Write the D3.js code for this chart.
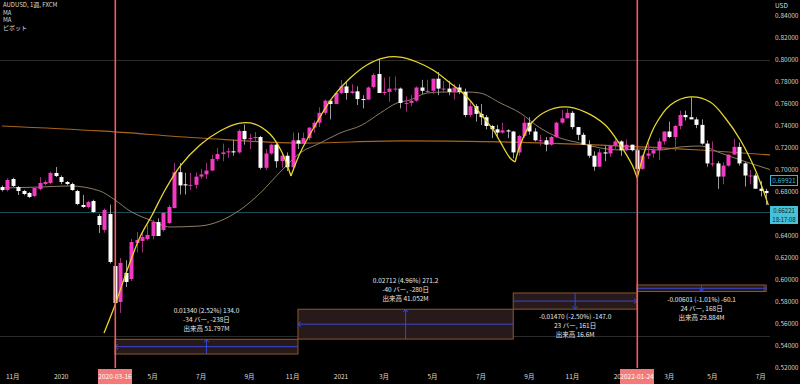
<!DOCTYPE html>
<html lang="ja">
<head>
<meta charset="UTF-8">
<title>AUDUSD 1週</title>
<script src="https://cdn.jsdelivr.net/npm/d3@7"></script>
<style>
  body { margin: 0; background: #000; }
  svg text { font-family: "Noto Sans CJK JP", "Noto Sans", sans-serif; }
</style>
</head>
<body>
<svg id="chart" width="800" height="384"></svg>
<script>
// weekly bars, first bar = week of 2019-10-21
var firstWeek = "2019-10-21", lastWeek = "2022-07-18";

var opens  = [.6845,.6818,.6918,.6845,.6809,.6791,.6764,.6827,.6873,.6882,.6973,.6936,.6891,.6873,.6809,.6682,.6664,.6718,.6582,.6455,
              .6600,.6127,.5800,.6064,.6009,.6336,.6355,.6373,.6400,.6527,.6455,.6518,.6655,.6980,.6870,.6860,.6865,.6940,.6960,.6995,
              .7100,.7145,.7160,.7170,.7160,.7355,.7280,.7290,.7300,.7020,.7150,.7230,.7080,.7130,.7025,.7270,.7240,.7290,.7385,.7430,
              .7520,.7630,.7600,.7700,.7760,.7700,.7715,.7645,.7640,.7755,.7873,.7700,.7710,.7740,.7740,.7610,.7610,.7630,.7750,.7720,
              .7720,.7830,.7740,.7740,.7710,.7750,.7710,.7500,.7580,.7510,.7480,.7400,.7370,.7340,.7360,.7350,.7160,.7310,.7430,.7350,
              .7270,.7270,.7230,.7300,.7430,.7470,.7520,.7390,.7320,.7230,.7130,.7030,.7160,.7150,.7220,.7260,.7180,.7230,.7180,.7010,
              .7130,.7150,.7180,.7260,.7350,.7300,.7400,.7500,.7480,.7460,.7410,.7240,.7060,.7060,.6940,.7040,.7140,.7210,.7060,.6950,
              .6950,.6830,.6810,.6790];
var highs  = [.6860,.6925,.6930,.6855,.6820,.6800,.6845,.6936,.6905,.6985,.7027,.6950,.6900,.6885,.6820,.6773,.6720,.6730,.6600,.6650,
              .6685,.6190,.6200,.6180,.6373,.6436,.6445,.6500,.6545,.6560,.6620,.6680,.7064,.7064,.6975,.6975,.6977,.7010,.7064,.7140,
              .7200,.7240,.7200,.7275,.7370,.7413,.7330,.7345,.7310,.7190,.7240,.7240,.7160,.7160,.7340,.7340,.7340,.7390,.7450,.7570,
              .7640,.7640,.7710,.7820,.7800,.7780,.7760,.7680,.7760,.7880,.8007,.7840,.7849,.7850,.7750,.7670,.7680,.7760,.7820,.7820,
              .7830,.7891,.7810,.7810,.7780,.7780,.7740,.7617,.7600,.7600,.7500,.7410,.7410,.7430,.7370,.7355,.7320,.7478,.7480,.7380,
              .7320,.7300,.7310,.7440,.7545,.7556,.7537,.7390,.7340,.7270,.7170,.7190,.7220,.7230,.7280,.7270,.7277,.7230,.7200,.7140,
              .7250,.7210,.7290,.7350,.7440,.7410,.7540,.7540,.7661,.7480,.7460,.7270,.7260,.7080,.7070,.7140,.7283,.7250,.7070,.7000,
              .6970,.6900,.6830,.6950];
var lows   = [.6805,.6805,.6845,.6773,.6770,.6745,.6755,.6815,.6860,.6870,.6935,.6870,.6860,.6810,.6680,.6655,.6650,.6610,.6427,.6430,
              .6150,.5506,.5700,.5936,.5990,.6250,.6250,.6360,.6370,.6400,.6440,.6510,.6650,.6777,.6777,.6820,.6830,.6920,.6920,.6990,
              .7080,.7080,.7110,.7130,.7150,.7230,.7190,.7260,.7005,.7000,.7140,.7020,.7020,.6990,.6990,.7190,.7240,.7270,.7340,.7390,
              .7500,.7460,.7600,.7690,.7640,.7690,.7590,.7560,.7640,.7740,.7700,.7680,.7620,.7710,.7560,.7530,.7580,.7620,.7690,.7700,
              .7690,.7680,.7700,.7680,.7640,.7690,.7480,.7480,.7440,.7410,.7370,.7290,.7290,.7330,.7290,.7106,.7130,.7290,.7320,.7260,
              .7220,.7170,.7220,.7290,.7420,.7470,.7370,.7270,.7230,.7110,.6993,.7030,.7080,.7120,.7190,.7130,.7170,.7170,.6967,.7000,
              .7100,.7110,.7090,.7230,.7290,.7170,.7370,.7450,.7480,.7380,.7230,.7030,.7030,.6828,.6870,.7030,.7140,.7040,.6850,.6870,
              .6830,.6760,.6681,.6780];
var closes = [.6818,.6909,.6855,.6809,.6782,.6755,.6836,.6882,.6891,.6973,.6945,.6891,.6873,.6818,.6691,.6664,.6709,.6618,.6500,.6636,
              .6164,.5791,.6155,.5982,.6345,.6364,.6390,.6410,.6527,.6400,.6610,.6664,.6980,.6860,.6860,.6865,.6940,.6960,.6995,.7100,
              .7145,.7160,.7170,.7160,.7355,.7280,.7290,.7300,.7020,.7150,.7230,.7080,.7130,.7025,.7270,.7240,.7290,.7385,.7430,.7520,
              .7630,.7600,.7700,.7760,.7700,.7715,.7645,.7640,.7750,.7864,.7700,.7710,.7740,.7740,.7610,.7610,.7630,.7750,.7720,.7720,
              .7830,.7740,.7740,.7710,.7750,.7710,.7500,.7580,.7510,.7480,.7400,.7370,.7340,.7360,.7350,.7160,.7310,.7430,.7350,.7270,
              .7270,.7230,.7300,.7430,.7470,.7520,.7390,.7320,.7230,.7130,.7030,.7160,.7150,.7220,.7260,.7180,.7230,.7180,.7010,.7130,
              .7150,.7180,.7260,.7350,.7300,.7400,.7500,.7480,.7460,.7410,.7240,.7060,.7060,.6940,.7040,.7140,.7210,.7060,.6950,.6950,
              .6830,.6810,.6790,.6920];

// moving averages: [bar, price]
var maShort = [[0,.6836],[7,.6845],[12.6,.6855],[18.2,.6809],[21,.6727],[23.8,.6627],[27.5,.6545],[31.2,.6482],[36.8,.6491],
               [40.5,.6536],[44.2,.6636],[48,.6791],[51.7,.6982],[55.4,.7155],[59.1,.7245],[62.8,.7336],[66.9,.7409],[70.3,.7518],
               [73.4,.7609],[75.8,.7636],[79,.7700],[82,.7709],[86.4,.7709],[88.8,.7700],[92.6,.7609],[96.3,.7518],[100,.7382],
               [103.7,.7291],[107.4,.7245],[111.2,.7200],[114.9,.7182],[118.6,.7191],[122.3,.7182],[126,.7209],[129.7,.7218],
               [133.5,.7155],[137.2,.7091],[143,.7000]];
var maLong  = [[0,.7400],[18.2,.7355],[36.8,.7291],[55.4,.7245],[74,.7264],[92.6,.7255],[111.2,.7227],[129.7,.7182],[143,.7136]];

// arcs drawn on the chart: [bar, price]
var arcs = [
  [[18.96,.5518],[21,.5773],[23.4,.6109],[25.65,.6391],[27.9,.6591],[30.3,.6818],[33.1,.7036],[36.8,.7227],[40.5,.7355],
   [44.2,.7427],[47,.7418],[49.8,.7327],[52,.7164],[53.7,.6945]],
  [[53.7,.6945],[55.4,.7155],[58.55,.7436],[61.5,.7664],[64.7,.7836],[67.8,.7955],[70.8,.8018],[74,.8027],[77.1,.7982],
   [80.1,.7909],[83.3,.7791],[86.4,.7664],[88.8,.7518],[91.3,.7364],[92.6,.7255],[94.4,.7109],[95.35,.7073]],
  [[95.35,.7073],[96.3,.7227],[98.1,.7409],[100.9,.7527],[104.6,.7573],[108.4,.7527],[112.1,.7409],[114.9,.7227],
   [117.1,.7045],[118.03,.6927]],
  [[118.03,.6927],[119.5,.7182],[121.4,.7409],[124.2,.7591],[127.9,.7664],[131.6,.7618],[134.4,.7473],[137.2,.7273],
   [140,.7000],[142.4,.6682]]
];

// date/price ranges: bar from, bar to, price low, price high, change sign
var rangeBars   = [[55,21],[95,55],[95,118],[118,142]];
var rangePrices = [[.5327,.5461],[.5463,.5734],[.5735,.5882],[.5895,.5955]];
var rangeUp     = [true, true, false, false];
var rangeText   = [
  ["0.01340 (2.52%) 134.0", "-34 バー, -238日", "出来高 51.797M"],
  ["0.02712 (4.96%) 271.2", "-40 バー, -280日", "出来高 41.052M"],
  ["-0.01470 (-2.50%) -147.0", "23 バー, 161日", "出来高 16.6M"],
  ["-0.00601 (-1.01%) -60.1", "24 バー, 168日", "出来高 29.884M"]
];

var markerDates = ["2020-03-16", "2022-01-24"];
var tickDates = ["2019-11-04","2020-01-06","2020-05-04","2020-07-06","2020-09-07","2020-11-02","2021-01-04",
                 "2021-03-01","2021-05-03","2021-07-05","2021-09-06","2021-11-01","2022-01-03","2022-03-07","2022-05-02","2022-07-04"];
var tickLabels = ["11月","2020","5月","7月","9月","11月","2021","3月","5月","7月","9月","11月","2022","3月","5月","7月"];
var priceTicks = [0.52,0.54,0.56,0.58,0.60,0.62,0.64,0.68,0.70,0.72,0.74,0.76,0.78,0.80,0.82,0.84];
var levels = [0.80, 0.5491];
var lastPrice = 0.66221, maPrice = 0.69921;
var legend = ["AUDUSD, 1週, FXCM", "MA", "MA", "ピボット"];

var weeks = d3.utcMonday.range(new Date(firstWeek), new Date(lastWeek + "T12:00Z"));
function barOf(s) { var t = +new Date(s); return weeks.findIndex(function(d){ return +d === t; }); }

var W = 800, H = 384, plotW = 770, plotH = 368;
var svg = d3.select('#chart');

var x = d3.scaleLinear().domain([barOf("2020-03-16"), barOf("2022-01-24")]).range([115, 637]);
var y = d3.scaleLinear().domain([0.52, 0.84]).range([368, 16]);

svg.append('rect').attr('width', W).attr('height', H).attr('fill', '#000');

var defs = svg.append('defs');
defs.append('clipPath').attr('id', 'plot')
    .append('rect').attr('width', plotW).attr('height', plotH);

var plot = svg.append('g').attr('clip-path', 'url(#plot)');

// guide levels
plot.selectAll('.lvl').data(levels).enter().append('line')
    .attr('x1', 0).attr('x2', plotW)
    .attr('y1', function(d){ return Math.round(y(d)) + 0.5; })
    .attr('y2', function(d){ return Math.round(y(d)) + 0.5; })
    .attr('stroke', '#2c2c2c');
plot.append('line')
    .attr('x1', 0).attr('x2', plotW)
    .attr('y1', Math.round(y(lastPrice)) + 0.5).attr('y2', Math.round(y(lastPrice)) + 0.5)
    .attr('stroke', '#1d4f59');

// range boxes
var rg = plot.selectAll('.range').data(rangeBars).enter().append('g');
rg.append('rect')
    .attr('x', function(d){ return x(Math.min(d[0], d[1])); })
    .attr('width', function(d){ return Math.abs(x(d[1]) - x(d[0])); })
    .attr('y', function(d, i){ return y(rangePrices[i][1]); })
    .attr('height', function(d, i){ return y(rangePrices[i][0]) - y(rangePrices[i][1]); })
    .attr('fill', '#28191a').attr('stroke', '#8a5a2c').attr('stroke-width', 1);
rg.each(function(d, i) {
    var g = d3.select(this);
    var p = rangePrices[i], ym = y((p[0] + p[1]) / 2), xm = x((d[0] + d[1]) / 2);
    var x0 = x(d[0]), x1 = x(d[1]), dir = x1 > x0 ? 1 : -1;
    var blue = '#3a47d6';
    g.append('line').attr('x1', x0).attr('x2', x1).attr('y1', ym).attr('y2', ym).attr('stroke', blue);
    g.append('path').attr('d', 'M' + (x1 - dir * 3) + ',' + (ym - 2.5) + 'L' + x1 + ',' + ym + 'L' + (x1 - dir * 3) + ',' + (ym + 2.5))
        .attr('fill', 'none').attr('stroke', blue);
    var ya = y(p[0]), yb = y(p[1]);
    var yEnd = rangeUp[i] ? yb : ya, vdir = rangeUp[i] ? -1 : 1;
    g.append('line').attr('x1', xm).attr('x2', xm).attr('y1', ya).attr('y2', yb).attr('stroke', blue);
    g.append('path').attr('d', 'M' + (xm - 2.5) + ',' + (yEnd - vdir * 3) + 'L' + xm + ',' + yEnd + 'L' + (xm + 2.5) + ',' + (yEnd - vdir * 3))
        .attr('fill', 'none').attr('stroke', blue);
    var lines = rangeText[i];
    var ty = rangeUp[i] ? yb - 8 - 9 * (lines.length - 1) : ya + 10;
    g.selectAll('text').data(lines).enter().append('text')
        .attr('x', xm).attr('y', function(t, k){ return ty + k * 9; })
        .attr('text-anchor', 'middle').attr('font-size', 6.5).attr('fill', '#e6e6e6')
        .text(function(t){ return t; });
});

// moving averages
var line = d3.line().x(function(d){ return x(d[0]); }).y(function(d){ return y(d[1]); }).curve(d3.curveMonotoneX);
plot.append('path').datum(maLong).attr('d', line).attr('fill', 'none').attr('stroke', '#a8651c').attr('stroke-width', 1.2);
plot.append('path').datum(maShort).attr('d', line).attr('fill', 'none').attr('stroke', '#8f7c63').attr('stroke-width', 1);

// candles
var bars = plot.selectAll('.bar').data(opens).enter().append('g');
bars.append('line')
    .attr('x1', function(d, i){ return Math.round(x(i)) + 0.5; })
    .attr('x2', function(d, i){ return Math.round(x(i)) + 0.5; })
    .attr('y1', function(d, i){ return y(highs[i]); })
    .attr('y2', function(d, i){ return y(lows[i]); })
    .attr('stroke', function(d, i){ return closes[i] >= opens[i] ? '#9c2f77' : '#9a9a9a'; });
bars.append('rect')
    .attr('x', function(d, i){ return Math.round(x(i)) - 1.5; })
    .attr('width', 4)
    .attr('y', function(d, i){ return y(Math.max(opens[i], closes[i])); })
    .attr('height', function(d, i){ return Math.max(1, Math.abs(y(opens[i]) - y(closes[i]))); })
    .attr('fill', function(d, i){ return closes[i] >= opens[i] ? '#f43ac2' : '#ffffff'; });

// arcs
var arcLine = d3.line().x(function(d){ return x(d[0]); }).y(function(d){ return y(d[1]); }).curve(d3.curveCatmullRom);
plot.selectAll('.arc').data(arcs).enter().append('path')
    .attr('d', arcLine).attr('fill', 'none').attr('stroke', '#e8d62e').attr('stroke-width', 1.3);

// date markers
plot.selectAll('.mk').data(markerDates).enter().append('rect')
    .attr('x', function(d){ return Math.round(x(barOf(d))) - 0.5; })
    .attr('width', 1.6)
    .attr('y', 0).attr('height', plotH)
    .attr('fill', '#f25c5c');

// legend
svg.selectAll('.lg').data(legend).enter().append('text')
    .attr('x', 3).attr('y', function(d, i){ return 7 + i * 7.7; })
    .attr('font-size', 6).attr('fill', '#dcdcdc').text(function(d){ return d; });

// price axis
svg.append('text').attr('x', 775).attr('y', 8).attr('font-size', 6.5).attr('fill', '#dcdcdc').text('USD');
svg.selectAll('.pt').data(priceTicks).enter().append('text')
    .attr('x', 775).attr('y', function(d){ return y(d) + 2.3; })
    .attr('font-size', 6.5).attr('fill', '#cfcfcf')
    .text(function(d){ return d.toFixed(5); });

svg.append('rect').attr('x', 770.5).attr('y', 175.5).attr('width', 27).attr('height', 10)
    .attr('fill', '#000').attr('stroke', '#3cb8d0');
svg.append('text').attr('x', 784).attr('y', 183).attr('text-anchor', 'middle')
    .attr('font-size', 6.5).attr('fill', '#3cb8d0').text(maPrice.toFixed(5));
svg.append('rect').attr('x', 770).attr('y', 206).attr('width', 28).attr('height', 18).attr('fill', '#46c1d8');
svg.append('text').attr('x', 784).attr('y', 213).attr('text-anchor', 'middle')
    .attr('font-size', 6).attr('fill', '#0c1f26').text(lastPrice.toFixed(5));
svg.append('text').attr('x', 784).attr('y', 221.5).attr('text-anchor', 'middle')
    .attr('font-size', 6).attr('fill', '#0c1f26').text('18:17:08');

// time axis
defs.append('clipPath').attr('id', 'taxis').append('path')
    .attr('d', 'M0,368H' + (x(barOf(markerDates[0])) - 17) + 'V384H0Z'
             + 'M' + (x(barOf(markerDates[0])) + 17) + ',368H' + (x(barOf(markerDates[1])) - 17) + 'V384H' + (x(barOf(markerDates[0])) + 17) + 'Z'
             + 'M' + (x(barOf(markerDates[1])) + 17) + ',368H' + W + 'V384H' + (x(barOf(markerDates[1])) + 17) + 'Z');
svg.append('g').attr('clip-path', 'url(#taxis)')
  .selectAll('.tk').data(tickDates).enter().append('text')
    .attr('x', function(d){ return x(barOf(d)); }).attr('y', 379)
    .attr('text-anchor', 'middle').attr('font-size', 6.5).attr('fill', '#dcdcdc')
    .text(function(d, i){ return tickLabels[i]; });

var mk = svg.selectAll('.mkl').data(markerDates).enter().append('g');
mk.append('rect')
    .attr('x', function(d){ return x(barOf(d)) - 17; }).attr('y', 369)
    .attr('width', 34).attr('height', 15).attr('fill', '#f47a7a');
mk.append('text')
    .attr('x', function(d){ return x(barOf(d)); }).attr('y', 379)
    .attr('text-anchor', 'middle').attr('font-size', 6.5).attr('fill', '#fff')
    .text(function(d){ return d; });
</script>
</body>
</html>
